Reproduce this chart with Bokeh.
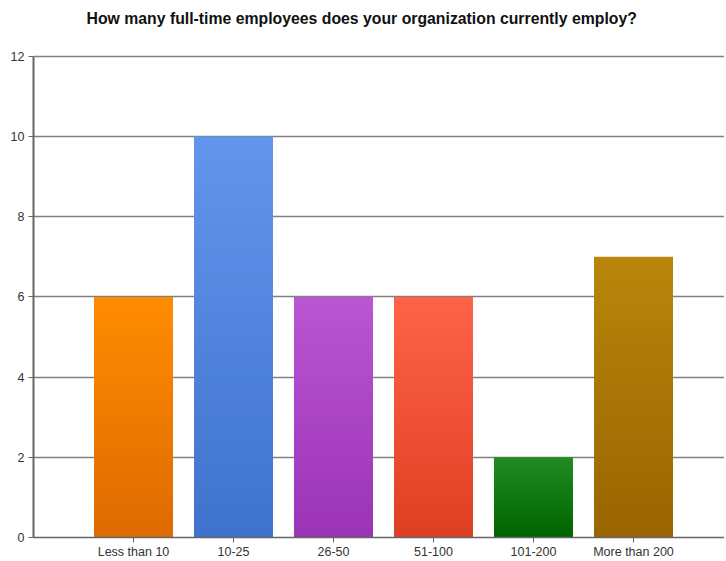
import numpy as np
from bokeh.plotting import figure
from bokeh.models import ColumnDataSource, Range1d, FixedTicker, Label
from bokeh.embed import file_html
from bokeh.resources import INLINE

# ---- data ----
categories = ["Less than 10", "10-25", "26-50", "51-100", "101-200", "More than 200"]
counts = [6, 10, 6, 6, 2, 7]
top_colors = ["#FF8C00", "#6495ED", "#BA55D3", "#FF6347", "#228B22", "#B8860B"]
bottom_colors = ["#DD6A00", "#3E72CC", "#9A33B5", "#DD3F22", "#006400", "#9A6400"]
y_ticks = [0, 2, 4, 6, 8, 10, 12]
title_text = "How many full-time employees does your organization currently employ?"


def hex2rgb(h):
    h = h.lstrip("#")
    return np.array([int(h[i:i + 2], 16) for i in (0, 2, 4)], dtype=float)


def rgb2hex(c):
    c = np.clip(np.round(c), 0, 255).astype(int)
    return "#%02x%02x%02x" % tuple(c)


# build gradient as nested quads (tallest first) from the data
N = 60
half_w = 0.395
lefts, rights, bottoms, tops, colors = [], [], [], [], []
for k in range(N, 0, -1):
    f = k / N
    for i, (v, tc, bc) in enumerate(zip(counts, top_colors, bottom_colors)):
        xc = i + 1
        ct, cb = hex2rgb(tc), hex2rgb(bc)
        lefts.append(xc - half_w)
        rights.append(xc + half_w)
        bottoms.append(0)
        tops.append(v * f)
        colors.append(rgb2hex(cb + (ct - cb) * f))

src = ColumnDataSource(dict(left=lefts, right=rights, bottom=bottoms, top=tops, color=colors))

# layout (pixels): frame spans the whole upper area so the title can sit inside it
W, H = 724, 561
FRAME_TOP, FRAME_BOTTOM, FRAME_LEFT = 8, 538, 33
AXIS_TOP_PX = 56          # pixel row of the top tick (12)
TITLE_PX = 18             # pixel row of the title's middle
y_max = y_ticks[-1]
px_per_unit = (FRAME_BOTTOM - AXIS_TOP_PX) / y_max
y_end = (FRAME_BOTTOM - FRAME_TOP) / px_per_unit

p = figure(width=W, height=H, output_backend="svg", toolbar_location=None, title=None,
           x_range=Range1d(0, (W - FRAME_LEFT) / 100.0), y_range=Range1d(0, y_end),
           min_border_left=FRAME_LEFT, min_border_right=0, min_border_top=FRAME_TOP,
           min_border_bottom=H - FRAME_BOTTOM)

p.quad(left="left", right="right", bottom="bottom", top="top", source=src,
       fill_color="color", line_color=None)

title = Label(x=0.53, y=(FRAME_BOTTOM - TITLE_PX) / px_per_unit,
              text=title_text, text_font="Liberation Sans", text_font_size="15.8px",
              text_font_style="bold", text_color="#111111",
              text_align="left", text_baseline="middle")
p.add_layout(title)

p.outline_line_color = None
p.background_fill_color = "white"
p.border_fill_color = "white"

# x axis
p.xaxis.ticker = FixedTicker(ticks=list(range(1, len(categories) + 1)))
p.xaxis.major_label_overrides = {i + 1: c for i, c in enumerate(categories)}
p.xaxis.minor_tick_line_color = None
p.xaxis.major_tick_in = 0
p.xaxis.major_tick_out = 5
p.xaxis.major_label_standoff = 2
p.xaxis.axis_line_color = "#666666"
p.xaxis.axis_line_width = 1.5
p.xaxis.major_tick_line_color = "#666666"
p.xaxis.major_label_text_font = "Liberation Sans"
p.xaxis.major_label_text_font_size = "12.5px"
p.xaxis.major_label_text_color = "#333333"

# y axis
p.yaxis.ticker = FixedTicker(ticks=y_ticks)
p.yaxis.bounds = (0, y_max)
p.yaxis.minor_tick_line_color = None
p.yaxis.major_tick_in = 0
p.yaxis.major_tick_out = 5
p.yaxis.major_label_standoff = 4
p.yaxis.axis_line_color = "#666666"
p.yaxis.axis_line_width = 2
p.yaxis.major_tick_line_color = "#666666"
p.yaxis.major_label_text_font = "Liberation Sans"
p.yaxis.major_label_text_font_size = "12.5px"
p.yaxis.major_label_text_color = "#333333"

p.xgrid.grid_line_color = None
p.ygrid.ticker = FixedTicker(ticks=y_ticks)
p.ygrid.grid_line_color = "#808080"
p.ygrid.grid_line_width = 1.5
p.ygrid.level = "underlay"

open("out.html", "w").write(file_html(p, INLINE))
